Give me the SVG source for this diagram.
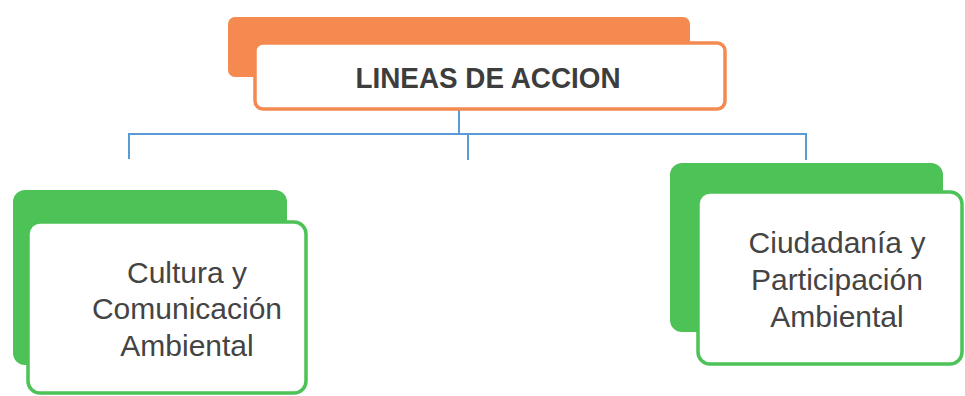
<svg xmlns="http://www.w3.org/2000/svg" width="965" height="396" viewBox="0 0 965 396">
<style>
.back-o{fill:#f58a51;}
.back-g{fill:#4cc257;}
.front-o{fill:#ffffff;stroke:#f58a51;stroke-width:3.5;}
.front-g{fill:#ffffff;stroke:#4cc257;stroke-width:3.5;}
.conn{fill:none;stroke:#5b9bd5;stroke-width:2;}
.title{font-family:"Liberation Sans",Arial,sans-serif;font-weight:bold;font-size:29px;fill:#3d3d3d;text-anchor:middle;}
.lbl{font-family:"Liberation Sans",Arial,sans-serif;font-size:30px;fill:#444444;text-anchor:middle;}
</style>
<rect width="965" height="396" fill="#ffffff"/>
<g id="connectors">
<path class="conn" d="M459 110 V134"/>
<path class="conn" d="M129 159 V134 H806 V160"/>
<path class="conn" d="M468 134 V160"/>
</g>
<g id="lineas">
<rect class="back-o" x="228" y="17" width="462" height="60" rx="7"/>
<rect class="front-o" x="255" y="43" width="470" height="66" rx="8"/>
<text class="title" x="488" y="88" textLength="265" lengthAdjust="spacingAndGlyphs">LINEAS DE ACCION</text>
</g>
<g id="cultura">
<rect class="back-g" x="13" y="190" width="274" height="175" rx="12"/>
<rect class="front-g" x="28" y="222" width="278" height="171" rx="12"/>
<text class="lbl" x="187" y="283">Cultura y</text>
<text class="lbl" x="187" y="319">Comunicación</text>
<text class="lbl" x="187" y="356">Ambiental</text>
</g>
<g id="ciudadania">
<rect class="back-g" x="670" y="163" width="273" height="169" rx="12"/>
<rect class="front-g" x="698" y="192" width="264" height="172" rx="12"/>
<text class="lbl" x="837" y="253">Ciudadanía y</text>
<text class="lbl" x="837" y="290">Participación</text>
<text class="lbl" x="837" y="327">Ambiental</text>
</g>
</svg>
